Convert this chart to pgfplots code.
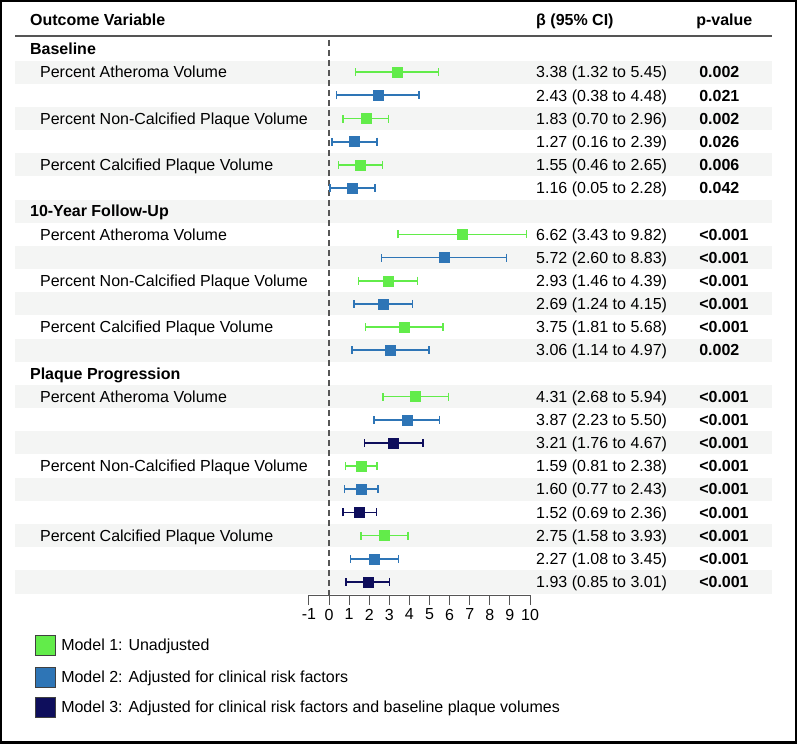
\documentclass[border=0pt]{standalone}
\usepackage{pgfplots}
\usepackage{pgfplotstable}
\pgfplotsset{compat=1.18}
\usepackage{fontspec}
\setmainfont{Liberation Sans}
\newcommand\fs{\fontsize{16bp}{19bp}\selectfont}
\definecolor{mgreen}{RGB}{98,236,74}
\definecolor{mblue}{RGB}{46,117,182}
\definecolor{mnavy}{RGB}{14,14,92}
\definecolor{stripe}{RGB}{244,245,244}
\definecolor{axgray}{RGB}{85,85,85}
\tikzset{txt/.style={font=\fs, anchor=west, text height=11.5bp, text depth=0pt, inner sep=0pt}}

\pgfplotstableread{
row est lo hi
1 3.38 1.32 5.45
3 1.83 0.70 2.96
5 1.55 0.46 2.65
8 6.62 3.43 9.82
10 2.93 1.46 4.39
12 3.75 1.81 5.68
15 4.31 2.68 5.94
18 1.59 0.81 2.38
21 2.75 1.58 3.93
}\modelone
\pgfplotstableread{
row est lo hi
2 2.43 0.38 4.48
4 1.27 0.16 2.39
6 1.16 0.05 2.28
9 5.72 2.60 8.83
11 2.69 1.24 4.15
13 3.06 1.14 4.97
16 3.87 2.23 5.50
19 1.60 0.77 2.43
22 2.27 1.08 3.45
}\modeltwo
\pgfplotstableread{
row est lo hi
17 3.21 1.76 4.67
20 1.52 0.69 2.36
23 1.93 0.85 3.01
}\modelthree

\begin{document}
\begin{tikzpicture}
\begin{axis}[
  x=20.1bp, y=23.17bp,
  xmin=-1, xmax=10, ymin=-23.57, ymax=0.39,
  clip=false,
  axis x line*=bottom,
  axis y line=none,
  x axis line style={draw=axgray, line width=1pt, -},
  xtick={-1,0,...,10},
  xticklabels={-1,0,1,2,3,4,5,6,7,8,9,10},
  tick align=outside,
  major tick length=10bp,
  xtick style={draw=axgray, line width=1pt},
  xticklabel style={font=\fs, text=black, inner sep=3.5bp},
  /pgf/number format/assume math mode=true,
]
% frame and background stripes
\draw[black, line width=2.5bp] (axis cs:-16.306,2.061) rectangle (axis cs:23.22,-29.94);
\fill[stripe] (axis cs:-15.62,-0.5) rectangle (axis cs:22.04,-1.5);
\fill[stripe] (axis cs:-15.62,-2.5) rectangle (axis cs:22.04,-3.5);
\fill[stripe] (axis cs:-15.62,-4.5) rectangle (axis cs:22.04,-5.5);
\fill[stripe] (axis cs:-15.62,-6.5) rectangle (axis cs:22.04,-7.5);
\fill[stripe] (axis cs:-15.62,-8.5) rectangle (axis cs:22.04,-9.5);
\fill[stripe] (axis cs:-15.62,-10.5) rectangle (axis cs:22.04,-11.5);
\fill[stripe] (axis cs:-15.62,-12.5) rectangle (axis cs:22.04,-13.5);
\fill[stripe] (axis cs:-15.62,-14.5) rectangle (axis cs:22.04,-15.5);
\fill[stripe] (axis cs:-15.62,-16.5) rectangle (axis cs:22.04,-17.5);
\fill[stripe] (axis cs:-15.62,-18.5) rectangle (axis cs:22.04,-19.5);
\fill[stripe] (axis cs:-15.62,-20.5) rectangle (axis cs:22.04,-21.5);
\fill[stripe] (axis cs:-15.62,-22.5) rectangle (axis cs:22.04,-23.5);
% header
\draw[axgray, line width=1.3bp] (axis cs:-15.62,0.561) -- (axis cs:22.04,0.561);
\node[txt, font=\fs\bfseries] at (axis cs:-14.88,1.252) {Outcome Variable};
\node[txt, font=\fs\bfseries] at (axis cs:10.30,1.252) {β (95\% CI)};
\node[txt, font=\fs\bfseries] at (axis cs:18.26,1.252) {p-value};
% reference line
\addplot[axgray, line width=1.2bp, dash pattern=on 6bp off 4bp] coordinates {(0,0.39) (0,-23.57)};
% data
\addplot[only marks, line width=1.7bp, mark=square*, mark size=5bp, color=mgreen, mark options={solid, line width=0.4bp, fill=mgreen, draw=mgreen},
  error bars/.cd, x dir=both, x explicit, error mark=|,
  error bar style={line width=1.7bp, solid, mgreen},
  error mark options={line width=1.5bp, mark size=4bp, mgreen}]
  table[x=est, y expr=-\thisrow{row},
  x error plus expr=\thisrow{hi}-\thisrow{est}, x error minus expr=\thisrow{est}-\thisrow{lo}] {\modelone};
\addplot[only marks, line width=1.7bp, mark=square*, mark size=5bp, color=mblue, mark options={solid, line width=0.4bp, fill=mblue, draw=mblue},
  error bars/.cd, x dir=both, x explicit, error mark=|,
  error bar style={line width=1.7bp, solid, mblue},
  error mark options={line width=1.5bp, mark size=4bp, mblue}]
  table[x=est, y expr=-\thisrow{row},
  x error plus expr=\thisrow{hi}-\thisrow{est}, x error minus expr=\thisrow{est}-\thisrow{lo}] {\modeltwo};
\addplot[only marks, line width=1.7bp, mark=square*, mark size=5bp, color=mnavy, mark options={solid, line width=0.4bp, fill=mnavy, draw=mnavy},
  error bars/.cd, x dir=both, x explicit, error mark=|,
  error bar style={line width=1.7bp, solid, mnavy},
  error mark options={line width=1.5bp, mark size=4bp, mnavy}]
  table[x=est, y expr=-\thisrow{row},
  x error plus expr=\thisrow{hi}-\thisrow{est}, x error minus expr=\thisrow{est}-\thisrow{lo}] {\modelthree};
% row labels
\node[txt, font=\fs\bfseries] at (axis cs:-14.88,0) {Baseline};
\node[txt] at (axis cs:-14.38,-1) {Percent Atheroma Volume};
\node[txt] at (axis cs:-14.38,-3) {Percent Non-Calcified Plaque Volume};
\node[txt] at (axis cs:-14.38,-5) {Percent Calcified Plaque Volume};
\node[txt, font=\fs\bfseries] at (axis cs:-14.88,-7) {10-Year Follow-Up};
\node[txt] at (axis cs:-14.38,-8) {Percent Atheroma Volume};
\node[txt] at (axis cs:-14.38,-10) {Percent Non-Calcified Plaque Volume};
\node[txt] at (axis cs:-14.38,-12) {Percent Calcified Plaque Volume};
\node[txt, font=\fs\bfseries] at (axis cs:-14.88,-14) {Plaque Progression};
\node[txt] at (axis cs:-14.38,-15) {Percent Atheroma Volume};
\node[txt] at (axis cs:-14.38,-18) {Percent Non-Calcified Plaque Volume};
\node[txt] at (axis cs:-14.38,-21) {Percent Calcified Plaque Volume};
% estimates
\node[txt] at (axis cs:10.30,-1) {3.38 (1.32 to 5.45)};
\node[txt] at (axis cs:10.30,-2) {2.43 (0.38 to 4.48)};
\node[txt] at (axis cs:10.30,-3) {1.83 (0.70 to 2.96)};
\node[txt] at (axis cs:10.30,-4) {1.27 (0.16 to 2.39)};
\node[txt] at (axis cs:10.30,-5) {1.55 (0.46 to 2.65)};
\node[txt] at (axis cs:10.30,-6) {1.16 (0.05 to 2.28)};
\node[txt] at (axis cs:10.30,-8) {6.62 (3.43 to 9.82)};
\node[txt] at (axis cs:10.30,-9) {5.72 (2.60 to 8.83)};
\node[txt] at (axis cs:10.30,-10) {2.93 (1.46 to 4.39)};
\node[txt] at (axis cs:10.30,-11) {2.69 (1.24 to 4.15)};
\node[txt] at (axis cs:10.30,-12) {3.75 (1.81 to 5.68)};
\node[txt] at (axis cs:10.30,-13) {3.06 (1.14 to 4.97)};
\node[txt] at (axis cs:10.30,-15) {4.31 (2.68 to 5.94)};
\node[txt] at (axis cs:10.30,-16) {3.87 (2.23 to 5.50)};
\node[txt] at (axis cs:10.30,-17) {3.21 (1.76 to 4.67)};
\node[txt] at (axis cs:10.30,-18) {1.59 (0.81 to 2.38)};
\node[txt] at (axis cs:10.30,-19) {1.60 (0.77 to 2.43)};
\node[txt] at (axis cs:10.30,-20) {1.52 (0.69 to 2.36)};
\node[txt] at (axis cs:10.30,-21) {2.75 (1.58 to 3.93)};
\node[txt] at (axis cs:10.30,-22) {2.27 (1.08 to 3.45)};
\node[txt] at (axis cs:10.30,-23) {1.93 (0.85 to 3.01)};
% p-values
\node[txt, font=\fs\bfseries] at (axis cs:18.41,-1) {0.002};
\node[txt, font=\fs\bfseries] at (axis cs:18.41,-2) {0.021};
\node[txt, font=\fs\bfseries] at (axis cs:18.41,-3) {0.002};
\node[txt, font=\fs\bfseries] at (axis cs:18.41,-4) {0.026};
\node[txt, font=\fs\bfseries] at (axis cs:18.41,-5) {0.006};
\node[txt, font=\fs\bfseries] at (axis cs:18.41,-6) {0.042};
\node[txt, font=\fs\bfseries] at (axis cs:18.41,-8) {<0.001};
\node[txt, font=\fs\bfseries] at (axis cs:18.41,-9) {<0.001};
\node[txt, font=\fs\bfseries] at (axis cs:18.41,-10) {<0.001};
\node[txt, font=\fs\bfseries] at (axis cs:18.41,-11) {<0.001};
\node[txt, font=\fs\bfseries] at (axis cs:18.41,-12) {<0.001};
\node[txt, font=\fs\bfseries] at (axis cs:18.41,-13) {0.002};
\node[txt, font=\fs\bfseries] at (axis cs:18.41,-15) {<0.001};
\node[txt, font=\fs\bfseries] at (axis cs:18.41,-16) {<0.001};
\node[txt, font=\fs\bfseries] at (axis cs:18.41,-17) {<0.001};
\node[txt, font=\fs\bfseries] at (axis cs:18.41,-18) {<0.001};
\node[txt, font=\fs\bfseries] at (axis cs:18.41,-19) {<0.001};
\node[txt, font=\fs\bfseries] at (axis cs:18.41,-20) {<0.001};
\node[txt, font=\fs\bfseries] at (axis cs:18.41,-21) {<0.001};
\node[txt, font=\fs\bfseries] at (axis cs:18.41,-22) {<0.001};
\node[txt, font=\fs\bfseries] at (axis cs:18.41,-23) {<0.001};
% legend
\node[draw=black!75, line width=0.8bp, fill=mgreen, minimum size=20bp, inner sep=0pt, anchor=west] at (axis cs:-14.63,-25.72) {};
\node[draw=black!75, line width=0.8bp, fill=mblue, minimum size=20bp, inner sep=0pt, anchor=west] at (axis cs:-14.63,-27.10) {};
\node[draw=black!75, line width=0.8bp, fill=mnavy, minimum size=20bp, inner sep=0pt, anchor=west] at (axis cs:-14.63,-28.40) {};
\node[txt] at (axis cs:-13.33,-25.72) {Model 1: Unadjusted};
\node[txt] at (axis cs:-13.33,-27.10) {Model 2: Adjusted for clinical risk factors};
\node[txt] at (axis cs:-13.33,-28.40) {Model 3: Adjusted for clinical risk factors and baseline plaque volumes};
\end{axis}
\end{tikzpicture}
\end{document}
